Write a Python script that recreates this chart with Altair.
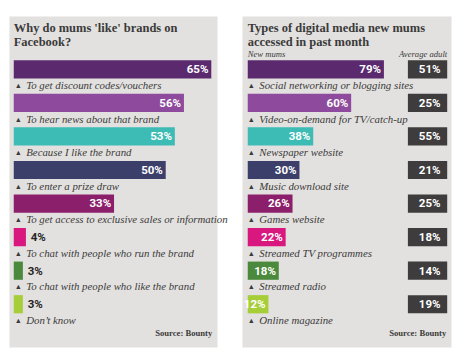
import altair as alt
import pandas as pd

# ---------------- data ----------------
left_title = ["Why do mums 'like' brands on", "Facebook?"]
reasons = [
    "To get discount codes/vouchers",
    "To hear news about that brand",
    "Because I like the brand",
    "To enter a prize draw",
    "To get access to exclusive sales or information",
    "To chat with people who run the brand",
    "To chat with people who like the brand",
    "Don\u2019t know",
]
reason_pct = [65, 56, 53, 50, 33, 4, 3, 3]

right_title = ["Types of digital media new mums", "accessed in past month"]
media = [
    "Social networking or blogging sites",
    "Video-on-demand for TV/catch-up",
    "Newspaper website",
    "Music download site",
    "Games website",
    "Streamed TV programmes",
    "Streamed radio",
    "Online magazine",
]
mums_pct = [79, 60, 38, 30, 26, 22, 18, 12]
adult_pct = [51, 25, 55, 21, 25, 18, 14, 19]

bar_colors = ["#5b2a6e", "#8e4a9c", "#3dbbb5", "#3d3f6b",
              "#8c1f6b", "#d8177f", "#4b8a3c", "#a6ce39"]
source_text = "Source: Bounty"
header_left = "New mums"
header_right = "Average adult"

# ---------------- style ----------------
BG = "#e3e1df"
INK = "#3a3a3a"
ADULT = "#3e3c3c"
W_L, W_R, H = 217, 218, 345
NUM_FONT = "Roboto"
LBL_FONT = "Liberation Serif"
STEP, BAND = 35, 19
PAD_IN = (STEP - BAND) / STEP
PAD_OUT = PAD_IN / 2


def yenc(cats):
    return alt.Y("cat:N", sort=cats, axis=None,
                 scale=alt.Scale(domain=cats, range=[38, 318],
                                 paddingInner=PAD_IN, paddingOuter=PAD_OUT))


def cenc(cats):
    return alt.Color("cat:N", legend=None,
                     scale=alt.Scale(domain=cats, range=bar_colors))


def one_text(text, x, y, align="left", baseline="middle", **kw):
    return alt.Chart(pd.DataFrame({"k": [0]})).mark_text(
        text=text, align=align, baseline=baseline, color=INK, **kw
    ).encode(x=alt.value(x), y=alt.value(y))


def title_layer(lines, x):
    return one_text(lines, x, 16.5, baseline="alphabetic", font=LBL_FONT,
                    fontSize=13, fontWeight="bold", lineHeight=14.5)


def common_layers(df, cats, xscale):
    x = alt.X("pct:Q", axis=None, scale=xscale)
    base = alt.Chart(df)
    bars = base.mark_bar().encode(x=x, y=yenc(cats), color=cenc(cats))
    inside = base.transform_filter("datum.pct >= 10").mark_text(
        align="right", baseline="middle", dx=-3, color="white",
        font=NUM_FONT, fontWeight="bold", fontSize=12
    ).encode(x=x, y=yenc(cats), text="label:N")
    outside = base.transform_filter("datum.pct < 10").mark_text(
        align="left", baseline="middle", dx=5, color="#262626",
        font=NUM_FONT, fontWeight="bold", fontSize=12
    ).encode(x=x, y=yenc(cats), text="label:N")
    tri = base.mark_text(align="left", baseline="middle", dy=17.5, fontSize=7.5,
                         color=INK, text="\u25b2").encode(
        x=alt.value(6), y=yenc(cats))
    lbl = base.mark_text(align="left", baseline="middle", dy=17.5,
                         font=LBL_FONT, fontStyle="italic", fontSize=11.3,
                         color=INK).encode(
        x=alt.value(18), y=yenc(cats), text="cat:N")
    return [bars, inside, outside, tri, lbl]


def source_layer(xpos):
    return one_text(source_text, xpos, 331, align="right", font=LBL_FONT,
                    fontWeight="bold", fontSize=9)


# ---------------- left panel ----------------
ldf = pd.DataFrame({"cat": reasons, "pct": reason_pct})
ldf["label"] = ldf["pct"].astype(str) + "%"
lscale = alt.Scale(domain=[0, max(reason_pct)], range=[5, 211], nice=False, zero=True)
left = alt.layer(title_layer(left_title, 5), *common_layers(ldf, reasons, lscale),
                 source_layer(212)).properties(width=W_L, height=H)

# ---------------- right panel ----------------
rdf = pd.DataFrame({"cat": media, "pct": mums_pct, "adult": adult_pct})
rdf["label"] = rdf["pct"].astype(str) + "%"
rdf["alabel"] = rdf["adult"].astype(str) + "%"
rscale = alt.Scale(domain=[0, max(mums_pct)], range=[6, 148], nice=False, zero=True)

adult_box = alt.Chart(rdf).mark_bar(color=ADULT).encode(
    x=alt.value(173), x2=alt.value(214), y=yenc(media))
adult_txt = alt.Chart(rdf).mark_text(
    align="right", baseline="middle", color="white",
    font=NUM_FONT, fontWeight="bold", fontSize=12
).encode(x=alt.value(207), y=yenc(media), text="alabel:N")

hdr_l = one_text(header_left, 6, 40, font=LBL_FONT, fontStyle="italic", fontSize=9)
hdr_r = one_text(header_right, 214, 40, align="right", font=LBL_FONT,
                 fontStyle="italic", fontSize=9)

right = alt.layer(title_layer(right_title, 6), *common_layers(rdf, media, rscale),
                  adult_box, adult_txt, hdr_l, hdr_r,
                  source_layer(213)).properties(width=W_R, height=H)

chart = alt.hconcat(left, right, spacing=13).configure_view(
    fill=BG, stroke="transparent"
).properties(padding=0, background="white")

chart.save("out.html", embed_options={"renderer": "svg", "actions": False})
